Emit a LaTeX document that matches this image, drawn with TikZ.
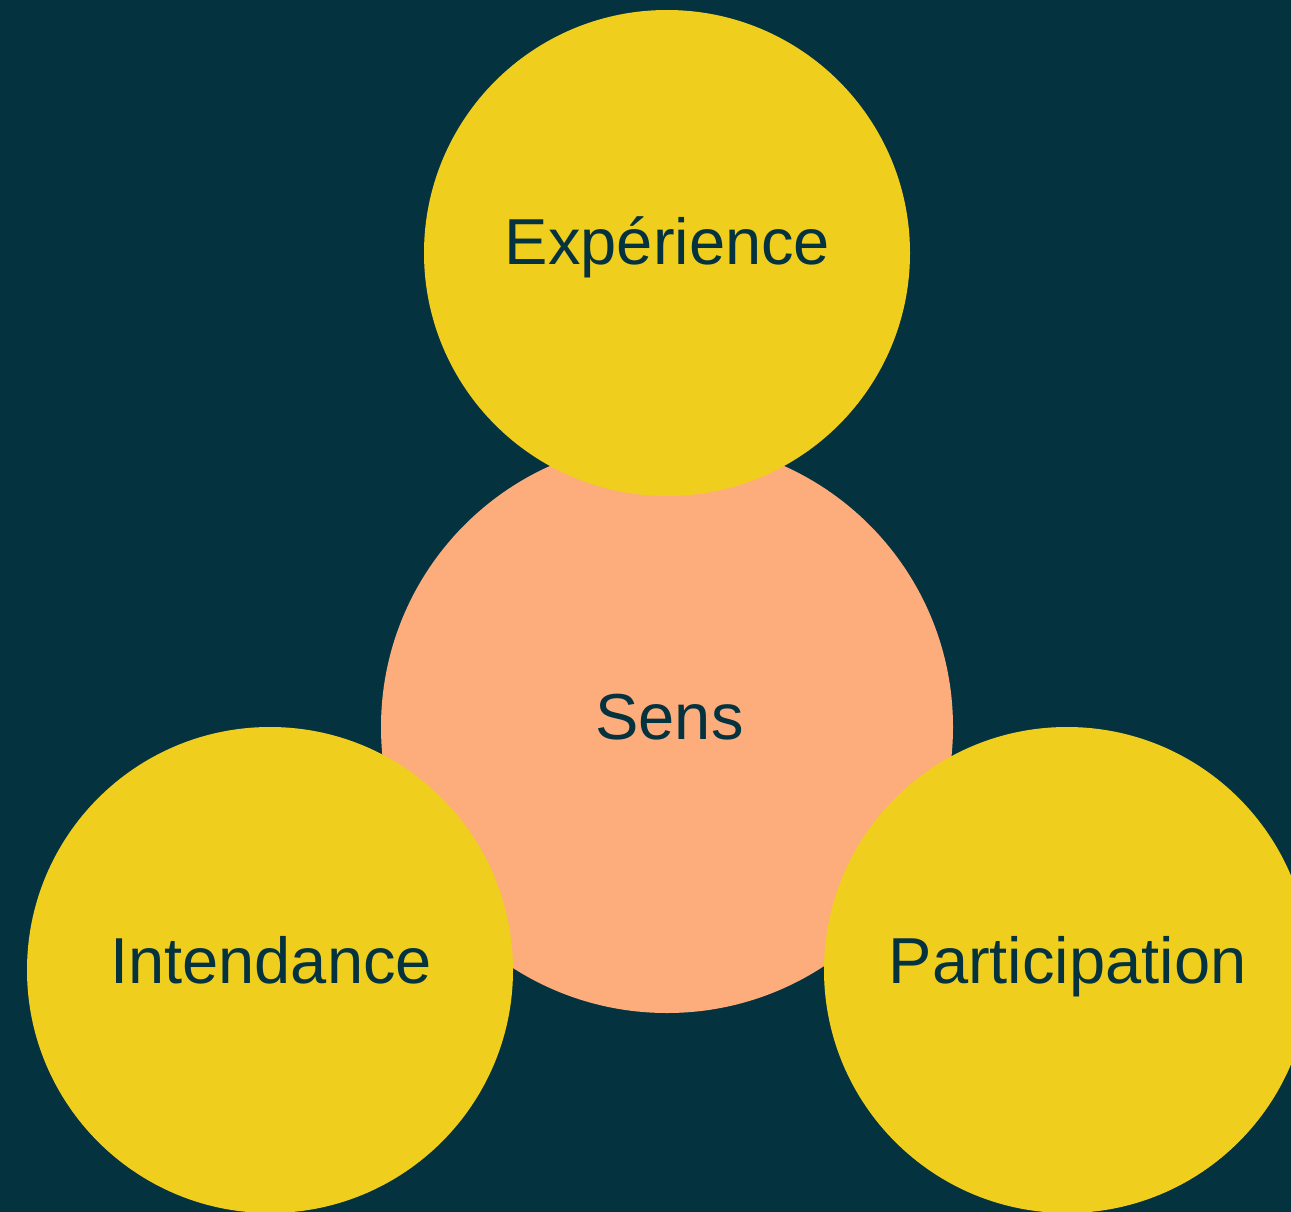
\documentclass[tikz,border=0pt]{standalone}
\usepackage{fontspec}
\setmainfont{Liberation Sans}
\definecolor{bg}{HTML}{04333F}
\definecolor{sun}{HTML}{F0CE1E}
\definecolor{peach}{HTML}{FDAD7B}
\begin{document}
\begin{tikzpicture}[x=1pt,y=-1pt,
  disc/.style={circle,inner sep=0pt,draw=none,minimum size=#1},
  lab/.style={anchor=base,inner sep=0pt,text=bg,font=\fontsize{65}{78}\selectfont}]
\fill[bg] (0,0) rectangle (1291,1212);
\useasboundingbox (0,0) rectangle (1291,1212);
\begin{scope}
\clip (0,0) rectangle (1291,1212);
\node[disc=572pt,fill=peach] (sens) at (667,727) {};
\node[disc=486pt,fill=sun] (exp) at (667,253) {};
\node[disc=486pt,fill=sun] (int) at (270,970) {};
\node[disc=486pt,fill=sun] (par) at (1067,970) {};
\end{scope}
\node[lab] (lexp) at (667.5,264) {Expérience};
\node[lab] (lsens) at (669.5,739) {Sens};
\node[lab] (lint) at (271,983) {Intendance};
\node[lab] (lpar) at (1067.5,983) {Participation};
\end{tikzpicture}
\end{document}
